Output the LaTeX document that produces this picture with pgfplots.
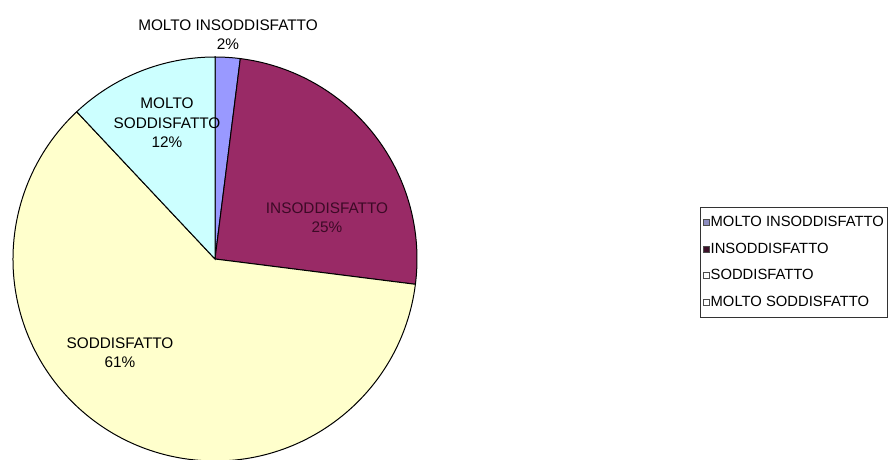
\documentclass[border=0pt]{standalone}
\usepackage{pgfplots}
\pgfplotsset{compat=1.18}
\usepackage{fontspec}
\setmainfont{Liberation Sans}
\definecolor{cA}{RGB}{153,153,255}
\definecolor{cB}{RGB}{153,42,102}
\definecolor{cC}{RGB}{255,255,204}
\definecolor{cD}{RGB}{204,255,255}
\definecolor{lbl}{RGB}{60,10,38}
% percentages (clockwise from 12 o'clock)
\def\pA{2}  % MOLTO INSODDISFATTO
\def\pB{25} % INSODDISFATTO
\def\pC{61} % SODDISFATTO
\def\pD{12} % MOLTO SODDISFATTO
\def\R{151.5pt}
\begin{document}
\begin{tikzpicture}
\begin{axis}[scale only axis, width=667.5pt, height=345pt,
  xmin=0, xmax=890, ymin=0, ymax=460, hide axis, clip=false,
  legend style={at={(axis cs:700,253)}, anchor=north west, draw=black!80,
    font=\fontsize{11.1}{12}\selectfont, row sep=6.6pt,
    inner xsep=2pt, inner ysep=4.8pt,
    nodes={inner xsep=0.8pt}},
  legend cell align=left]
\addlegendimage{legend image code/.code={\draw[fill=cA!50!gray, draw=black!70] (0pt,-2.3pt) rectangle (4.6pt,2.3pt);}}
\addlegendentry{MOLTO INSODDISFATTO}
\addlegendimage{legend image code/.code={\draw[fill=cB!40!black, draw=black!70] (0pt,-2.3pt) rectangle (4.6pt,2.3pt);}}
\addlegendentry{INSODDISFATTO}
\addlegendimage{legend image code/.code={\draw[fill=white, draw=black!70] (0pt,-2.3pt) rectangle (4.6pt,2.3pt);}}
\addlegendentry{SODDISFATTO}
\addlegendimage{legend image code/.code={\draw[fill=white, draw=black!70] (0pt,-2.3pt) rectangle (4.6pt,2.3pt);}}
\addlegendentry{MOLTO SODDISFATTO}

\path (axis cs:0,0) rectangle (axis cs:890,460);

\filldraw[overlay, fill=cA, draw=black, line width=0.75pt] (axis cs:215,201) -- ++(90:\R)
  arc[start angle=90, delta angle={-3.6*\pA}, radius=\R] -- cycle;
\filldraw[overlay, fill=cB, draw=black, line width=0.75pt] (axis cs:215,201) -- ++({90-3.6*\pA}:\R)
  arc[start angle={90-3.6*\pA}, delta angle={-3.6*\pB}, radius=\R] -- cycle;
\filldraw[overlay, fill=cC, draw=black, line width=0.75pt] (axis cs:215,201) -- ++({90-3.6*(\pA+\pB)}:\R)
  arc[start angle={90-3.6*(\pA+\pB)}, delta angle={-3.6*\pC}, radius=\R] -- cycle;
\filldraw[overlay, fill=cD, draw=black, line width=0.75pt] (axis cs:215,201) -- ++({90-3.6*(\pA+\pB+\pC)}:\R)
  arc[start angle={90-3.6*(\pA+\pB+\pC)}, delta angle={-3.6*\pD}, radius=\R] -- cycle;

\node[align=center, font=\fontsize{11.5}{14.5}\selectfont] at (axis cs:228,425.5) {MOLTO INSODDISFATTO\\2\%};
\node[align=center, text=lbl, font=\fontsize{11.5}{14.5}\selectfont] at (axis cs:327,242) {INSODDISFATTO\\25\%};
\node[align=center, font=\fontsize{11.5}{14.5}\selectfont] at (axis cs:167,337) {MOLTO\\SODDISFATTO\\12\%};
\node[align=center, font=\fontsize{11.5}{14.5}\selectfont] at (axis cs:120,107.5) {SODDISFATTO\\61\%};
\end{axis}
\end{tikzpicture}
\end{document}
